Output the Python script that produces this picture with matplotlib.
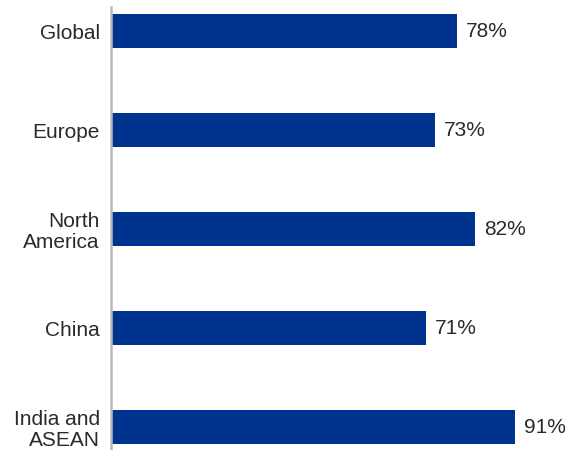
import matplotlib.pyplot as plt

regions = ["Global", "Europe", "North\nAmerica", "China", "India and\nASEAN"]
shares = [78, 73, 82, 71, 91]

bar_color = "#00338D"
text_color = "#2a2a2a"

plt.rcParams["font.family"] = ["Liberation Sans", "DejaVu Sans"]

fig = plt.figure(figsize=(5.75, 4.5), dpi=100)
ax = fig.add_axes([0.193, 0.0, 0.807, 0.984])

pos = list(range(len(regions)))
bars = ax.barh(pos, shares, height=0.343, color=bar_color)

for rect, v in zip(bars, shares):
    ax.text(rect.get_width() + 2.0, rect.get_y() + rect.get_height() / 2,
            f"{v}%", va="center", ha="left", fontsize=15, color=text_color)

ax.set_yticks(pos)
ax.set_yticklabels(regions, fontsize=15, color=text_color,
                   multialignment="right", linespacing=1.15)
ax.tick_params(axis="y", length=0, pad=8)
ax.set_xticks([])
ax.set_xlim(0, 104.5)
ax.set_ylim(4.232, -0.242)

for side in ["top", "right", "bottom"]:
    ax.spines[side].set_visible(False)
ax.spines["left"].set_color("#BBBBBB")
ax.spines["left"].set_linewidth(1.8)

fig.savefig("out.png", dpi=100)
